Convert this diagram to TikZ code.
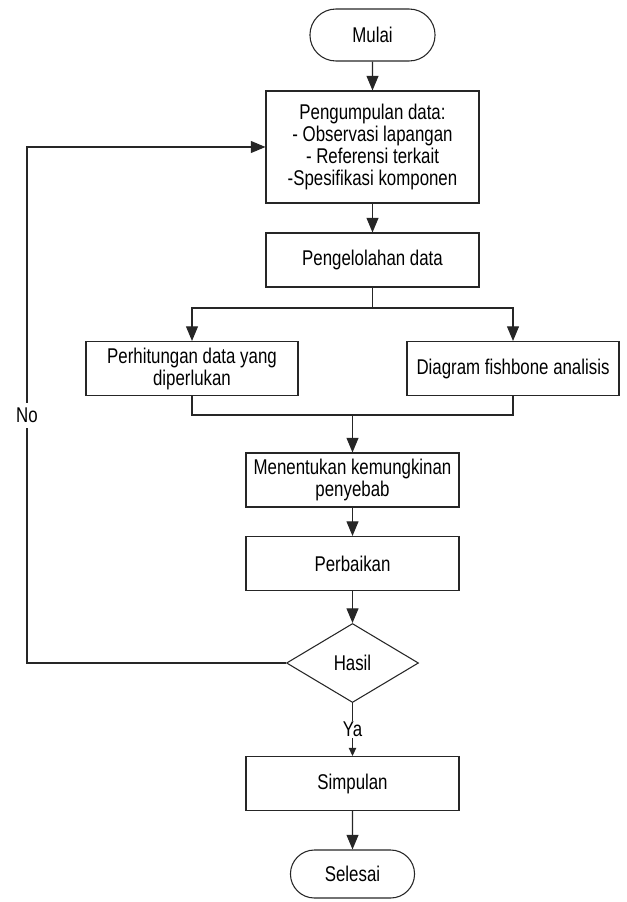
\documentclass[tikz,border=0pt]{standalone}
\usepackage{fontspec}
\setmainfont[FakeStretch=0.79]{Liberation Sans}
\usetikzlibrary{positioning, arrows.meta, shapes.geometric, shapes.misc}

\tikzset{
  proses/.style={draw=black!85, line width=0.8pt, rectangle, align=center,
    minimum width=213*0.75pt, minimum height=54*0.75pt, inner sep=2pt},
  terminal/.style={draw=black!85, line width=0.8pt, rounded rectangle,
    minimum width=134*0.75pt, minimum height=52*0.75pt},
  keputusan/.style={draw=black!85, line width=0.8pt, diamond, aspect=1.7,
    minimum width=132*0.75pt, minimum height=79*0.75pt, inner sep=0pt},
  garis/.style={draw=black!85, line width=0.8pt},
  panah/.style={garis, -{Triangle[length=11pt, width=9pt]}},
  panahkecil/.style={garis, -{Triangle[length=6pt, width=5.5pt]}}
}

\begin{document}
\begin{tikzpicture}[x=0.75pt, y=-0.75pt, font=\fontsize{16}{16.5}\selectfont]

\useasboundingbox (0,0) rectangle (627,902);

% Blok utama
\node[terminal] (mulai) at (372.5,35) {Mulai};
\node[proses, minimum height=112*0.75pt] (kumpul) at (372.5,147)
  {Pengumpulan data:\\- Observasi lapangan\\- Referensi terkait\\-Spesifikasi komponen};
\node[proses] (kelola) at (372.5,260) {Pengelolahan data};

% Dua cabang
\node[proses, minimum width=212*0.75pt] (hitung) at (192,368.5)
  {Perhitungan data yang\\diperlukan};
\node[proses, minimum width=212*0.75pt] (fish) at (513,368.5)
  {Diagram fishbone analisis};

\node[proses] (tentu) at (352.5,480) {Menentukan kemungkinan\\penyebab};
\node[proses] (baik) at (352.5,563.5) {Perbaikan};
\node[keputusan] (hasil) at (352.5,663) {Hasil};
\node[proses] (simpul) at (352.5,783.5) {Simpulan};
\node[terminal, minimum width=133*0.75pt, minimum height=48*0.75pt] (selesai) at (352.5,874) {Selesai};

% Titik bantu
\coordinate (cabang) at (372.5,308);
\coordinate (gabung) at (352.5,415);
\coordinate (balik) at (27,663);

% Panah
\draw[panah] (mulai) -- (kumpul);
\draw[panah] (kumpul) -- (kelola);
\draw[garis] (kelola) -- (cabang);
\draw[panah] (cabang) -| (hitung.north);
\draw[panah] (cabang) -| (fish.north);
\draw[garis] (hitung.south) |- (gabung) -| (fish.south);
\draw[panah] (gabung) -- (tentu);
\draw[panah] (tentu) -- (baik);
\draw[panah] (baik) -- (hasil);
\draw[panahkecil] (hasil.south) -- node[fill=white, inner sep=1pt] {Ya} (simpul.north);
\draw[panah] (simpul) -- (selesai);

% Jalur kembali
\draw[panah] (hasil.west) -- (balik) |- node[pos=0.24, fill=white, inner sep=4pt] {No} (kumpul.west);

\end{tikzpicture}
\end{document}
